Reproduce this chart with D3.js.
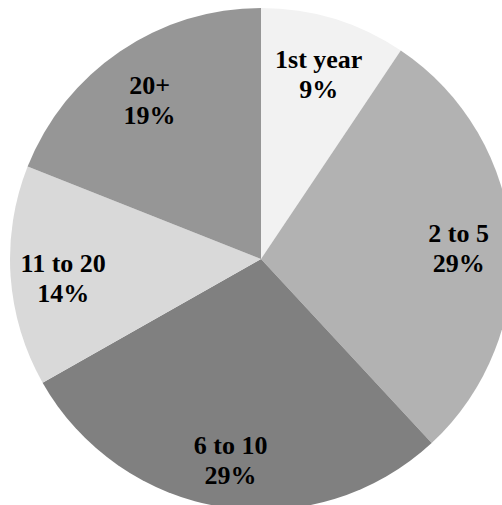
<!DOCTYPE html>
<html>
<head>
<meta charset="utf-8">
<script src="https://cdn.jsdelivr.net/npm/d3@7"></script>
<style>
  body { margin: 0; background: #fff; }
</style>
</head>
<body>
<svg width="502" height="505"></svg>
<script>
var categories = ["1st year", "2 to 5", "6 to 10", "11 to 20", "20+"];
var values = [9.4, 28.7, 28.7, 14.2, 19.0];
var percentLabels = ["9%", "29%", "29%", "14%", "19%"];
var colors = ["#f2f2f2", "#b2b2b2", "#808080", "#d9d9d9", "#969696"];

var svg = d3.select("svg");
var radius = 251;
var g = svg.append("g")
  .attr("transform", "translate(" + 261 + "," + 259 + ")");

var data = categories.map(function(c, i) {
  return { name: c, value: values[i], pct: percentLabels[i], color: colors[i] };
});

var pie = d3.pie().sort(null).value(function(d) { return d.value; });
var arc = d3.arc().innerRadius(0).outerRadius(radius);
var labelArc = d3.arc().innerRadius(radius * 0.79).outerRadius(radius * 0.79);

var arcs = pie(data);

g.selectAll(".slice")
  .data(arcs)
  .enter().append("path")
  .attr("class", "slice")
  .attr("d", arc)
  .attr("fill", function(d) { return d.data.color; });

// two-line labels: category and percent
var labels = g.selectAll(".lbl")
  .data(arcs)
  .enter().append("text")
  .attr("class", "lbl")
  .attr("transform", function(d) {
    var c = labelArc.centroid(d);
    return "translate(" + c[0] + "," + c[1] + ")";
  })
  .attr("text-anchor", "middle")
  .attr("font-family", "'Liberation Serif', 'Times New Roman', serif")
  .attr("font-weight", "bold")
  .attr("font-size", "26px")
  .attr("fill", "#000");

labels.append("tspan")
  .attr("x", 0)
  .attr("y", -1)
  .text(function(d) { return d.data.name; });

labels.append("tspan")
  .attr("x", 0)
  .attr("y", 29)
  .text(function(d) { return d.data.pct; });
</script>
</body>
</html>
